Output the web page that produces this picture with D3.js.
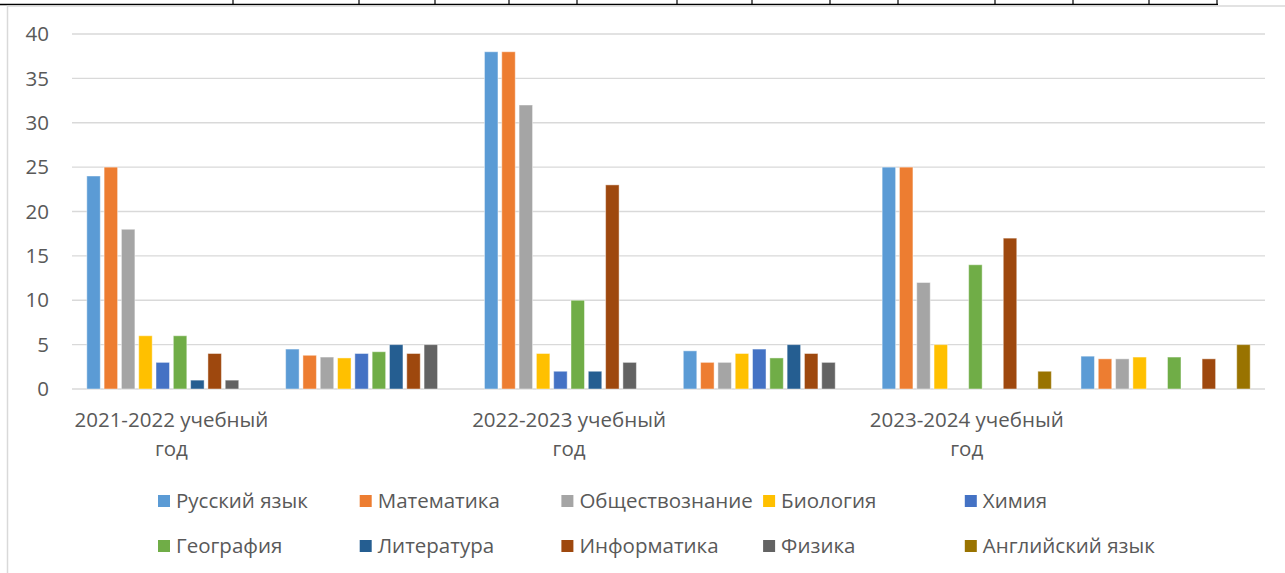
<!DOCTYPE html>
<html>
<head>
<meta charset="utf-8">
<script src="https://cdn.jsdelivr.net/npm/d3@7"></script>
<style>
 body { margin: 0; background: #fff; }
 svg text { font-family: "Open Sans", "Noto Sans", "Liberation Sans", sans-serif; fill: #595959; }
</style>
</head>
<body>
<div id="chart"></div>
<script>
// categories on the x axis (every second one has no label)
var categories = ["2021-2022 учебный год", "", "2022-2023 учебный год", "", "2023-2024 учебный год", ""];
var seriesNames = ["Русский язык", "Математика", "Обществознание", "Биология", "Химия",
                   "География", "Литература", "Информатика", "Физика", "Английский язык"];
var seriesColors = ["#5B9BD5", "#ED7D31", "#A5A5A5", "#FFC000", "#4472C4",
                    "#70AD47", "#255E91", "#9E480E", "#636363", "#997300"];
// one row per category, one value per subject (null = no bar)
var values = [
 [24, 25, 18, 6, 3, 6, 1, 4, 1, null],
 [4.5, 3.8, 3.6, 3.5, 4, 4.2, 5, 4, 5, null],
 [38, 38, 32, 4, 2, 10, 2, 23, 3, null],
 [4.3, 3, 3, 4, 4.5, 3.5, 5, 4, 3, null],
 [25, 25, 12, 5, null, 14, null, 17, null, 2],
 [3.7, 3.4, 3.4, 3.6, null, 3.6, null, 3.4, null, 5]
];
var yTicks = [0, 5, 10, 15, 20, 25, 30, 35, 40];
// borders of a table that sits just above the chart in the document
var tableCols = [233, 359, 435, 509, 577, 677, 752, 830, 898, 995, 1073, 1149, 1217];

var w = 1285, h = 573, fs = "20.5px";
var svg = d3.select("#chart").append("svg").attr("width", w).attr("height", h);

// table remnants at the very top
svg.append("line").attr("x1", 0).attr("x2", 1218).attr("y1", 4.5).attr("y2", 4.5)
 .attr("stroke", "#000").attr("stroke-width", 1.5);
svg.selectAll(".tcol").data(tableCols).enter().append("line")
 .attr("x1", function (d) { return d; }).attr("x2", function (d) { return d; })
 .attr("y1", 0).attr("y2", 4.5).attr("stroke", "#000").attr("stroke-width", 1.2);

// chart frame
svg.append("path").attr("d", "M7.5,573 V6 H1285")
 .attr("fill", "none").attr("stroke", "#d9d9d9").attr("stroke-width", 1.5);

var x0 = d3.scaleBand().domain(d3.range(categories.length)).range([72, 1265]);
var x1 = d3.scaleBand().domain(d3.range(seriesNames.length)).range([0, x0.bandwidth()])
 .paddingInner(0.22).paddingOuter(0.855);
var y = d3.scaleLinear().domain([0, 40]).range([389, 34]);

// gridlines
svg.selectAll(".grid").data(yTicks).enter().append("line")
 .attr("x1", 72).attr("x2", 1265)
 .attr("y1", function (d) { return y(d); }).attr("y2", function (d) { return y(d); })
 .attr("stroke", "#d9d9d9").attr("stroke-width", 1.3);

// y axis labels
svg.selectAll(".ylab").data(yTicks).enter().append("text")
 .attr("x", 49).attr("y", function (d) { return y(d); })
 .attr("dy", "0.35em").attr("text-anchor", "end")
 .style("font-size", fs).text(function (d) { return d; });

// bars
var groups = svg.selectAll(".cat").data(values).enter().append("g")
 .attr("transform", function (d, i) { return "translate(" + x0(i) + ",0)"; });
groups.selectAll("rect")
 .data(function (row) {
   return row.map(function (v, j) { return { s: j, v: v }; }).filter(function (d) { return d.v !== null; });
 })
 .enter().append("rect")
 .attr("x", function (d) { return x1(d.s); })
 .attr("width", x1.bandwidth())
 .attr("y", function (d) { return y(d.v); })
 .attr("height", function (d) { return y(0) - y(d.v); })
 .attr("fill", function (d) { return seriesColors[d.s]; })
 .attr("stroke", "#fff").attr("stroke-opacity", 0.45).attr("stroke-width", 1);

// category labels (wrapped on two lines)
categories.forEach(function (c, i) {
 if (!c) return;
 var parts = c.split(" ");
 var t = svg.append("text").attr("text-anchor", "middle").style("font-size", fs);
 var cx = x0(i) + x0.bandwidth() / 2;
 t.append("tspan").attr("x", cx).attr("y", 420).attr("dy", "0.35em").text(parts.slice(0, 2).join(" "));
 t.append("tspan").attr("x", cx).attr("y", 449).attr("dy", "0.35em").text(parts.slice(2).join(" "));
});

// legend
var leg = svg.selectAll(".leg").data(seriesNames).enter().append("g")
 .attr("transform", function (d, i) {
   return "translate(" + (158 + (i % 5) * 201.7) + "," + (501 + Math.floor(i / 5) * 45) + ")";
 });
leg.append("rect").attr("x", 0).attr("y", -6).attr("width", 12).attr("height", 12)
 .attr("fill", function (d, i) { return seriesColors[i]; });
leg.append("text").attr("x", 18).attr("dy", "0.35em").style("font-size", fs)
 .text(function (d) { return d; });
</script>
</body>
</html>
